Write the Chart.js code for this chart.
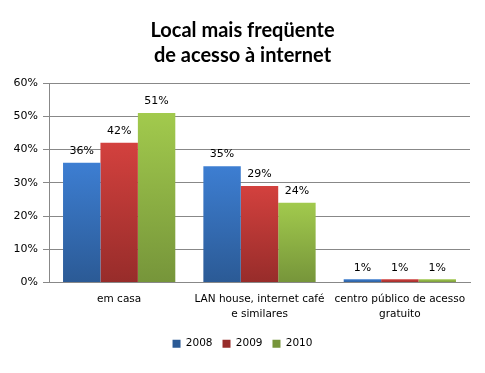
<!DOCTYPE html>
<html>
<head>
<meta charset="utf-8">
<script src="https://cdn.jsdelivr.net/npm/chart.js@4.4.0/dist/chart.umd.min.js"></script>
<style>
  html, body { margin: 0; padding: 0; background: #fff; }
  #wrap { width: 485px; height: 373px; }
</style>
</head>
<body>
<div id="wrap"><canvas id="myChart" width="485" height="373"></canvas></div>
<script>
const categories = [['em casa'], ['LAN house, internet café', 'e similares'], ['centro público de acesso', 'gratuito']];
const years = ['2008', '2009', '2010'];
const values2008 = [36, 35, 1];
const values2009 = [42, 29, 1];
const values2010 = [51, 24, 1];
const yTicks = [0, 10, 20, 30, 40, 50, 60];

const LABEL_FONT = '"DejaVu Sans", Verdana, sans-serif';

// top/bottom colours of each series gradient
const colours = [
  ['#3d7ed2', '#2b5a95'],
  ['#d3413e', '#972c2a'],
  ['#a2ca4d', '#76953a']
];

// gradient runs over each bar, light at its top and dark at the axis
function gradientFor(i) {
  return (ctx) => {
    const chart = ctx.chart;
    const yScale = chart.scales.y;
    if (!chart.chartArea || !yScale || !ctx.parsed) return colours[i][0];
    const top = yScale.getPixelForValue(ctx.parsed.y);
    const bottom = yScale.getPixelForValue(0);
    const g = chart.ctx.createLinearGradient(0, top, 0, bottom);
    g.addColorStop(0, colours[i][0]);
    g.addColorStop(1, colours[i][1]);
    return g;
  };
}

// simple value labels above each bar
const barLabels = {
  id: 'barLabels',
  afterDatasetsDraw(chart) {
    const c = chart.ctx;
    c.save();
    c.font = '11px ' + LABEL_FONT;
    c.fillStyle = '#000';
    c.textAlign = 'center';
    c.textBaseline = 'bottom';
    chart.data.datasets.forEach((ds, i) => {
      chart.getDatasetMeta(i).data.forEach((bar, j) => {
        c.fillText(ds.data[j] + '%', bar.x, bar.y - 6);
      });
    });
    c.restore();
  }
};

const ctxt = document.getElementById('myChart').getContext('2d');

const myChart = new Chart(ctxt, {
  type: 'bar',
  data: {
    labels: categories,
    datasets: [values2008, values2009, values2010].map((d, i) => ({
      label: years[i],
      data: d,
      backgroundColor: gradientFor(i),
      borderWidth: 0,
      barPercentage: 1.0,
      categoryPercentage: 0.8
    }))
  },
  options: {
    responsive: false,
    animation: false,
    layout: { padding: { left: 0, right: 0, top: 18, bottom: 14 } },
    plugins: {
      title: {
        display: true,
        text: ['Local mais freqüente', 'de acesso à internet'],
        color: '#000',
        font: { family: 'Lato, "Open Sans", sans-serif', size: 20, weight: 'bold', lineHeight: 1.25 },
        padding: { top: 0, bottom: 15 }
      },
      legend: {
        position: 'bottom',
        labels: {
          color: '#000',
          font: { family: LABEL_FONT, size: 10.5 },
          boxWidth: 8,
          boxHeight: 8,
          padding: 10,
          generateLabels(chart) {
            return chart.data.datasets.map((ds, i) => ({
              text: ds.label,
              fillStyle: colours[i][1],
              strokeStyle: colours[i][1],
              lineWidth: 0,
              datasetIndex: i
            }));
          }
        }
      },
      tooltip: { enabled: false }
    },
    scales: {
      x: {
        afterFit(scale) { scale.height = 46; },
        grid: { display: false, drawTicks: false },
        border: { color: '#888', width: 1 },
        ticks: {
          color: '#000',
          font: { family: LABEL_FONT, size: 10.5, lineHeight: 1.45 },
          maxRotation: 0,
          autoSkip: false,
          padding: 9
        }
      },
      y: {
        min: 0,
        max: 60,
        afterFit(scale) { scale.width = 49; },
        afterBuildTicks(scale) { scale.ticks = yTicks.map(v => ({ value: v })); },
        grid: { color: '#888', tickLength: 6, drawTicks: true },
        border: { color: '#888', width: 1 },
        ticks: {
          color: '#000',
          font: { family: LABEL_FONT, size: 11 },
          padding: 5,
          callback: v => v + '%'
        }
      },
      // empty axis on the right, only to leave the margin beside the plot
      yRight: {
        position: 'right',
        display: true,
        afterFit(scale) { scale.width = 15; },
        grid: { display: false, drawTicks: false },
        border: { display: false },
        ticks: { display: false }
      }
    }
  },
  plugins: [barLabels]
});
</script>
</body>
</html>
